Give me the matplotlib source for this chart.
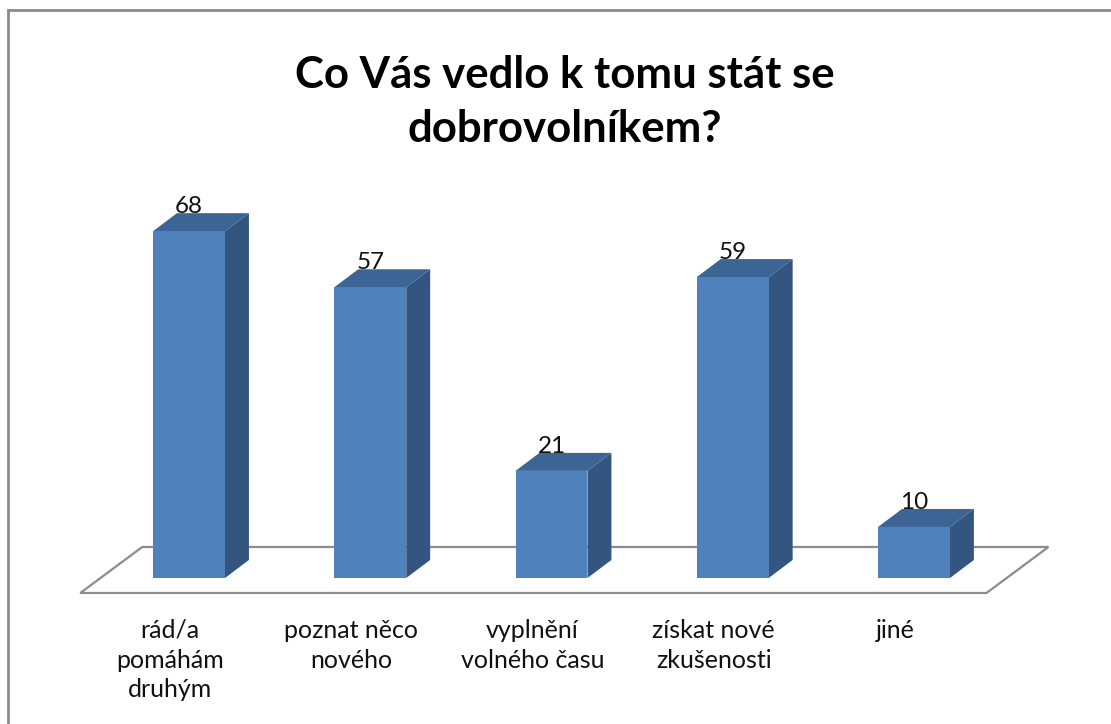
import matplotlib.pyplot as plt
from matplotlib.patches import Polygon
from matplotlib.lines import Line2D

# data
categories = ['rád/a\npomáhám\ndruhým', 'poznat něco\nnového', 'vyplnění\nvolného času',
              'získat nové\nzkušenosti', 'jiné']
values = [68, 57, 21, 59, 10]
title = 'Co Vás vedlo k tomu stát se\ndobrovolníkem?'

front_c = '#4F81BD'
side_c = '#34557F'
top_c = '#3C6494'
grey = '#8C8C8C'

plt.rcParams['font.family'] = ['Lato', 'DejaVu Sans']

fig = plt.figure(figsize=(11.11, 7.24), dpi=100)
ax = fig.add_axes([0, 0, 1, 1])
ax.set_xlim(-1.043, 5.087)
ax.set_ylim(-28.63, 113.33)
ax.axis('off')

n = len(values)
w = 0.397              # bar width (category units)
ddx, ddy = 0.132, 3.53  # bar depth offset
fdx, fdy = 0.342, 9.02  # floor depth offset
f0 = -2.94              # front edge of the floor

# floor
ax.add_patch(Polygon([(-0.6, f0), (n - 0.6, f0), (n - 0.6 + fdx, f0 + fdy), (-0.6 + fdx, f0 + fdy)],
                     closed=True, fill=False, ec=grey, lw=1.6, zorder=1))

# 3d-ish columns
ax.bar(range(n), values, width=w, color=front_c, zorder=3, linewidth=0)
for i, v in enumerate(values):
    x0, x1 = i - w / 2, i + w / 2
    ax.add_patch(Polygon([(x1, 0), (x1 + ddx, ddy), (x1 + ddx, v + ddy), (x1, v)],
                         closed=True, fc=side_c, ec='none', zorder=2))
    ax.add_patch(Polygon([(x0, v), (x1, v), (x1 + ddx, v + ddy), (x0 + ddx, v + ddy)],
                         closed=True, fc=top_c, ec='none', zorder=2))
    ax.text(i, v + ddy, str(v), ha='center', va='baseline', fontsize=17.5, color='#111111', zorder=4)
    ax.text(i - 0.105, -8.0, categories[i], ha='center', va='top', fontsize=18,
            color='#111111', linespacing=1.36)

fig.text(565 / 1111, 1 - 102 / 724, title, ha='center', va='center', fontsize=31.5,
         fontweight='bold', linespacing=1.42)

# chart border
fig.add_artist(Line2D([8 / 1111, 8 / 1111], [0, 1 - 10 / 724], color=grey, lw=2))
fig.add_artist(Line2D([8 / 1111, 1], [1 - 10 / 724, 1 - 10 / 724], color=grey, lw=2))

fig.savefig('out.png', dpi=100)
